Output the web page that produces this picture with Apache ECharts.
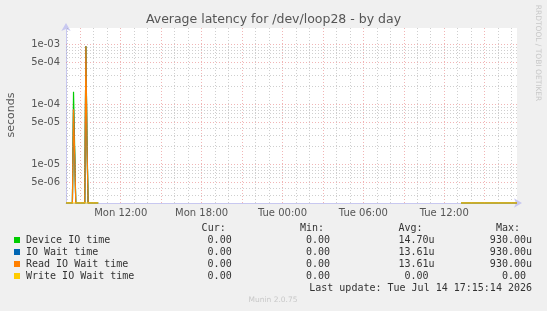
<!DOCTYPE html>
<html>
<head>
<meta charset="utf-8">
<script src="https://cdn.jsdelivr.net/npm/echarts@6/dist/echarts.min.js"></script>
<style>
html,body{margin:0;padding:0;background:#f0f0f0;}
#chart{width:547px;height:311px;}
</style>
</head>
<body>
<div id="chart"></div>
<script>
// ---- data ----
const titleText = 'Average latency for /dev/loop28 - by day';
const seriesNames = ['Device IO time', 'IO Wait time', 'Read IO Wait time', 'Write IO Wait time'];
const seriesColors = ['#00CC00', '#0066B3', '#FF8000', '#FFCC00'];
// sample times, hours since Mon 00:00 (null value = unknown / no data)
const hours      = [7.95, 8.417, 8.5,     8.583,  8.667, 9.333, 9.417,  9.5,    9.583, 10.333, 10.417, 37.25, 41.4];
const deviceIO   = [0,    0,     1.62e-4, 2.0e-5, 0,     0,     9.3e-4, 2.5e-5, 0,     0,      null,   0,     0];
const ioWait     = [0,    0,     8.25e-5, 1.5e-5, 0,     0,     9.3e-4, 2.0e-5, 0,     0,      null,   0,     0];
const readWait   = [0,    0,     8.25e-5, 1.5e-5, 0,     0,     9.3e-4, 2.0e-5, 0,     0,      null,   0,     0];
const writeWait  = [0,    0,     0,       0,      0,     0,     0,      0,      0,     0,      null,   0,     0];
const curVals = [0, 0, 0, 0];
const minVals = [0, 0, 0, 0];
const avgVals = [14.70e-6, 13.61e-6, 13.61e-6, 0];
const maxVals = [930.00e-6, 930.00e-6, 930.00e-6, 0];
const xTickHours  = [12, 18, 24, 30, 36];
const xTickLabels = ['Mon 12:00', 'Mon 18:00', 'Tue 00:00', 'Tue 06:00', 'Tue 12:00'];
const yTickValues = [1e-3, 5e-4, 1e-4, 5e-5, 1e-5, 5e-6];
const yTickLabels = ['1e-03', '5e-04', '1e-04', '5e-05', '1e-05', '5e-06'];
const lastUpdate = 'Last update: Tue Jul 14 17:15:14 2026';
const footer = 'Munin 2.0.75';
const sideText = 'RRDTOOL / TOBI OETIKER';

// ---- axis ranges ----
const TIME_MIN = 7.942, TIME_MAX = 41.40;
const Y_MIN = -5.645, Y_MAX = -2.728;   // log10 seconds
const ZERO_Y = Y_MIN - 0.003;            // zero values sit on the bottom edge (log scale)

const lg = v => (v === null ? null : (v > 0 ? Math.log10(v) : ZERO_Y));
const allSeries = [deviceIO, ioWait, readWait, writeWait];

// grid lines
const RED = 'rgba(230,120,120,0.55)';
const GRAY = 'rgba(160,160,160,0.5)';
const gridLines = [];
for (let h = Math.ceil(TIME_MIN); h <= Math.floor(TIME_MAX); h++) {
  gridLines.push({ xAxis: h, lineStyle: { color: h % 3 === 0 ? RED : GRAY, type: [1, 2], width: 1 } });
}
for (let e = -7; e <= -2; e++) {
  for (let m = 1; m <= 9; m++) {
    const v = Math.log10(m) + e;
    if (v > Y_MIN + 0.001 && v < Y_MAX) {
      gridLines.push({ yAxis: v, lineStyle: { color: (m === 1 || m === 5) ? RED : GRAY, type: [1, 2], width: 1 } });
    }
  }
}

const series = [{
  type: 'line', data: [], z: 1, silent: true, symbol: 'none',
  markLine: { silent: true, symbol: 'none', label: { show: false }, animation: false, data: gridLines }
}];
allSeries.forEach((arr, i) => {
  series.push({
    name: seriesNames[i], type: 'line', z: 3 + i, symbol: 'none', showSymbol: false,
    connectNulls: false, animation: false,
    lineStyle: { color: seriesColors[i], width: 1.2 },
    data: hours.map((h, k) => [h, lg(arr[k])])
  });
});

// legend / stats
const mono = '10px "DejaVu Sans Mono"';
const txtColor = '#333';
const charW = 6.02;
const fmt = v => v === 0 ? { s: '0.00', u: false } : { s: (v * 1e6).toFixed(2) + 'u', u: true };
const colRight = [237.7, 336, 434.5, 532];
const headers = ['Cur:', 'Min:', 'Avg:', 'Max:'];
const cols = [curVals, minVals, avgVals, maxVals];
const rowY = [240, 252, 264, 276];
const graphics = [];
headers.forEach((h, c) => {
  graphics.push({ type: 'text', x: colRight[c] - 12, y: 228, style: { text: h, font: mono, fill: txtColor, align: 'right', verticalAlign: 'middle' } });
});
seriesNames.forEach((n, r) => {
  graphics.push({ type: 'rect', shape: { x: 14, y: rowY[r] - 3, width: 6, height: 6 }, style: { fill: seriesColors[r] } });
  graphics.push({ type: 'text', x: 26, y: rowY[r], style: { text: n, font: mono, fill: txtColor, verticalAlign: 'middle' } });
  cols.forEach((col, c) => {
    const f = fmt(col[r]);
    graphics.push({ type: 'text', x: colRight[c] - (f.u ? 0 : charW), y: rowY[r], style: { text: f.s, font: mono, fill: txtColor, align: 'right', verticalAlign: 'middle' } });
  });
});
graphics.push({ type: 'text', x: 532, y: 288, style: { text: lastUpdate, font: mono, fill: txtColor, align: 'right', verticalAlign: 'middle' } });
graphics.push({ type: 'text', x: 273, y: 300, style: { text: footer, font: '7.5px "DejaVu Sans"', fill: '#c8c8c8', align: 'center', verticalAlign: 'middle' } });
graphics.push({ type: 'text', x: 538, y: 53, rotation: -Math.PI / 2, style: { text: sideText, font: '7.5px "DejaVu Sans"', fill: '#c8c8c8', align: 'center', verticalAlign: 'middle' } });
graphics.push({ type: 'text', x: 11, y: 115, rotation: Math.PI / 2, style: { text: 'seconds', font: '11px "DejaVu Sans"', fill: '#555', align: 'center', verticalAlign: 'middle' } });

const axisCol = '#c8c8f0';
const option = {
  backgroundColor: '#f0f0f0',
  animation: false,
  title: { text: titleText, left: 'center', top: 8, textStyle: { fontFamily: 'DejaVu Sans', fontSize: 12.5, fontWeight: 'normal', color: '#555' } },
  grid: { left: 66, right: 30, top: 28, bottom: 108, show: true, backgroundColor: '#ffffff', borderWidth: 0 },
  xAxis: {
    type: 'value', min: TIME_MIN, max: TIME_MAX,
    splitLine: { show: false },
    axisTick: { show: false },
    axisLine: { lineStyle: { color: axisCol, width: 1 }, symbol: ['none', 'arrow'], symbolSize: [7, 8], symbolOffset: [0, 5] },
    axisLabel: {
      customValues: xTickHours, margin: 5,
      formatter: v => { const i = xTickHours.findIndex(h => Math.abs(h - v) < 1e-6); return i >= 0 ? xTickLabels[i] : ''; },
      fontFamily: 'DejaVu Sans', fontSize: 10, color: '#555', showMinLabel: true, showMaxLabel: true
    }
  },
  yAxis: {
    type: 'value', min: Y_MIN, max: Y_MAX,
    splitLine: { show: false },
    axisTick: { show: false },
    axisLine: { show: true, lineStyle: { color: axisCol, width: 1 }, symbol: ['none', 'arrow'], symbolSize: [7, 8], symbolOffset: [0, 5] },
    axisLabel: {
      customValues: yTickValues.map(v => Math.log10(v)), margin: 6,
      formatter: v => { const i = yTickValues.findIndex(t => Math.abs(Math.log10(t) - v) < 1e-6); return i >= 0 ? yTickLabels[i] : ''; },
      fontFamily: 'DejaVu Sans', fontSize: 10, color: '#555'
    }
  },
  series: series,
  graphic: graphics
};
const chart = echarts.init(document.getElementById('chart'), null, { renderer: 'canvas' });
chart.setOption(option);
</script>
</body>
</html>
